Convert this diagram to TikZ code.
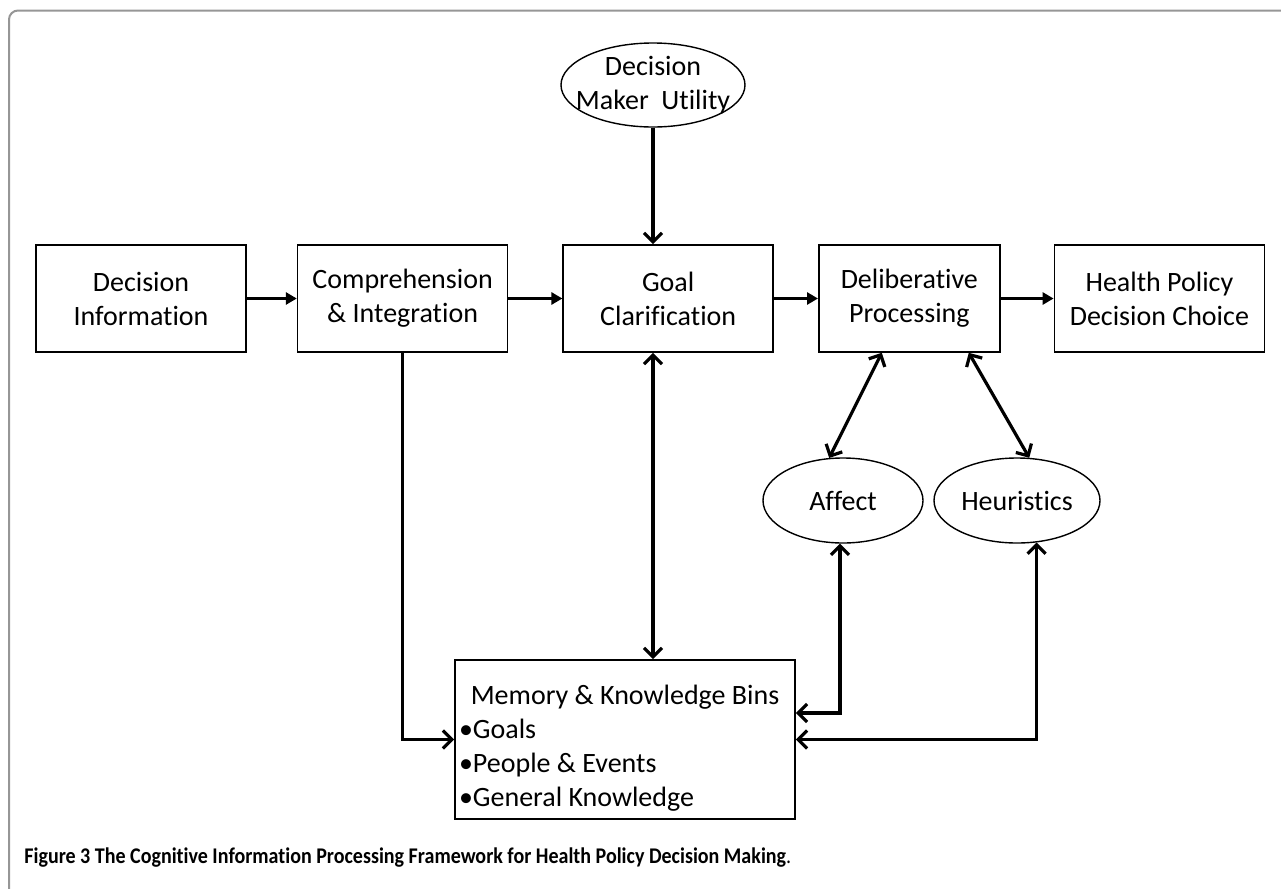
\documentclass[tikz,border=0pt]{standalone}
\usepackage{fontspec}
\setmainfont{Carlito}[Ligatures={NoCommon,NoRequired,NoContextual,NoRare}, RawFeature={-liga;-clig;-calt;-dlig;-rlig}]
\usepackage{tikz}
\usetikzlibrary{positioning}
\usetikzlibrary{arrows.meta}
\usetikzlibrary{shapes.geometric}
\definecolor{framegray}{RGB}{150,150,150}

\begin{document}
\begin{tikzpicture}[x=0.5pt, y=-0.5pt,
squarednode/.style={rectangle, draw=black, fill=white, line width=0.8pt, minimum width=105pt, minimum height=53.5pt, align=center, font=\fontsize{14}{17}\selectfont},
roundnode/.style={ellipse, draw=black, fill=white, line width=0.7pt, inner sep=0pt, align=center, font=\fontsize{14}{17}\selectfont},
flowarrow/.style={-{Triangle[length=5.5pt, width=6pt]}, line width=1.6pt},
linkarrow/.style={-{Straight Barb[length=4.5pt, width=9pt]}, line width=1.6pt},
bothlink/.style={{Straight Barb[length=4.5pt, width=9pt]}-{Straight Barb[length=4.5pt, width=9pt]}, line width=1.6pt},
]
\useasboundingbox (0,0) rectangle (1281,889);
%Frame
\draw[framegray, line width=1pt, rounded corners=4.5pt] (9,889) -- (9,10.5) -- (1281,10.5);

%Nodes
\node[squarednode]      (dinfo)     at (141,298.5)            {Decision\\Information};
\node[squarednode]      (comp)      [right=25pt of dinfo]     {Comprehension\\\& Integration};
\node[squarednode]      (goal)      [right=27pt of comp]      {Goal\\Clarification};
\node[squarednode, minimum width=90.5pt] (delib) [right=22pt of goal] {Deliberative\\Processing};
\node[squarednode]      (choice)    [right=26.5pt of delib]   {Health Policy\\Decision Choice};
\node[roundnode, minimum width=92pt, minimum height=42pt, inner xsep=-9pt] (util)  at (653,85)  {Decision\\Maker\ \ Utility};
\node[roundnode, minimum width=80pt, minimum height=42.5pt] (affect) at (843,500.5) {Affect};
\node[roundnode, minimum width=83pt, minimum height=42.5pt] (heur)   at (1017,500.5) {Heuristics};
\node[squarednode, minimum width=170pt, minimum height=79.5pt, inner sep=1pt] (mem) at (625,739.5)
  {\begin{tabular}{@{}l@{}}
   \multicolumn{1}{@{}c@{}}{\makebox[166pt][c]{\rule{0pt}{21pt}Memory \& Knowledge Bins}}\\
   \textbullet Goals\\
   \textbullet People \& Events\\
   \textbullet General Knowledge
   \end{tabular}};
\node[anchor=west, inner sep=0pt, font=\fontsize{11.2}{13}\selectfont] (cap) at (24,858)
  {\scalebox{0.894}[1]{\textbf{Figure 3 The Cognitive Information Processing Framework for Health Policy Decision Making}.}};

%Lines
\draw[flowarrow] (dinfo.east) -- (comp.west);
\draw[flowarrow] (comp.east) -- (goal.west);
\draw[flowarrow] (goal.east) -- (delib.west);
\draw[flowarrow] (delib.east) -- (choice.west);
\draw[linkarrow] (util.south) -- (util.south |- goal.north);
\draw[bothlink] (util.south |- goal.south) -- (util.south |- mem.north);
\draw[linkarrow] (comp.south) |- (mem.west);
\draw[bothlink] ([xshift=-13.75pt]delib.south) -- (affect.108);
\draw[bothlink] ([xshift=29.75pt]delib.south) -- (heur.74);
\draw[bothlink] (affect.-94) |- ([yshift=13.25pt]mem.east);
\draw[bothlink] (heur.-65) |- (mem.east);
\end{tikzpicture}
\end{document}
